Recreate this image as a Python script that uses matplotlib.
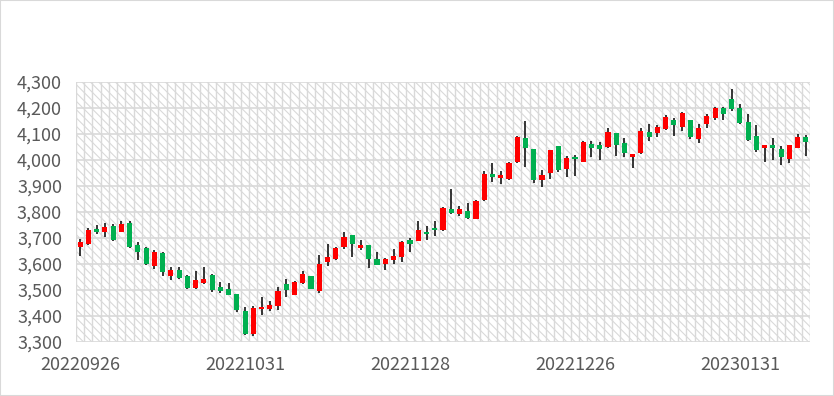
import numpy as np
import matplotlib.pyplot as plt
from matplotlib.patches import Rectangle

plt.rcParams['font.family'] = ['Noto Sans CJK JP', 'DejaVu Sans']

dates = ["20220926", "20220927", "20220928", "20220929", "20220930",
         "20221010", "20221011", "20221012", "20221013", "20221014",
         "20221017", "20221018", "20221019", "20221020", "20221021",
         "20221024", "20221025", "20221026", "20221027", "20221028",
         "20221031", "20221101", "20221102", "20221103", "20221104",
         "20221107", "20221108", "20221109", "20221110", "20221111",
         "20221114", "20221115", "20221116", "20221117", "20221118",
         "20221121", "20221122", "20221123", "20221124", "20221125",
         "20221128", "20221129", "20221130", "20221201", "20221202",
         "20221205", "20221206", "20221207", "20221208", "20221209",
         "20221212", "20221213", "20221214", "20221215", "20221216",
         "20221219", "20221220", "20221221", "20221222", "20221223",
         "20221226", "20221227", "20221228", "20221229", "20221230",
         "20230103", "20230104", "20230105", "20230106",
         "20230109", "20230110", "20230111", "20230112", "20230113",
         "20230116", "20230117", "20230118", "20230119", "20230120",
         "20230130", "20230131", "20230201", "20230202", "20230203",
         "20230206", "20230207", "20230208", "20230209", "20230210"]

open_ = [3665, 3677, 3734, 3722, 3747, 3725, 3758, 3673, 3661, 3594,
         3642, 3555, 3578, 3555, 3507, 3526, 3559, 3512, 3502, 3483,
         3421, 3329, 3428, 3427, 3440, 3525, 3482, 3528, 3553, 3495,
         3606, 3621, 3665, 3711, 3661, 3672, 3619, 3599, 3614, 3627,
         3693, 3690, 3725, 3740, 3732, 3811, 3793, 3805, 3773, 3847,
         3947, 3931, 3928, 3992, 4084, 4043, 3924, 3950, 4052, 3965,
         4012, 3994, 4062, 4057, 4049, 4104, 4067, 4011, 4026, 4107,
         4103, 4120, 4154, 4128, 4154, 4081, 4138, 4163, 4201, 4235,
         4201, 4148, 4093, 4048, 4057, 4043, 4004, 4048, 4088]
high = [3695, 3740, 3750, 3758, 3755, 3766, 3766, 3683, 3665, 3655,
        3647, 3590, 3587, 3557, 3572, 3587, 3560, 3531, 3527, 3486,
        3434, 3440, 3472, 3459, 3510, 3543, 3533, 3572, 3555, 3636,
        3677, 3666, 3722, 3712, 3691, 3673, 3645, 3622, 3658, 3687,
        3700, 3764, 3747, 3764, 3818, 3889, 3824, 3834, 3847, 3958,
        3990, 3958, 3991, 4092, 4150, 4044, 3962, 4040, 4053, 4016,
        4020, 4072, 4075, 4071, 4122, 4105, 4086, 4025, 4122, 4139,
        4135, 4173, 4161, 4186, 4155, 4139, 4178, 4202, 4202, 4273,
        4216, 4177, 4135, 4059, 4086, 4054, 4059, 4100, 4097]
low = [3629, 3675, 3717, 3705, 3690, 3724, 3661, 3614, 3598, 3580,
       3553, 3537, 3543, 3505, 3505, 3522, 3493, 3487, 3479, 3416,
       3328, 3322, 3405, 3418, 3423, 3472, 3480, 3525, 3502, 3489,
       3594, 3617, 3659, 3626, 3652, 3583, 3595, 3578, 3601, 3606,
       3645, 3687, 3693, 3706, 3727, 3792, 3783, 3775, 3772, 3844,
       3917, 3907, 3924, 3990, 3973, 3913, 3898, 3928, 3952, 3933,
       3939, 3992, 4013, 4000, 4047, 4016, 4011, 3971, 4024, 4075,
       4090, 4116, 4094, 4113, 4081, 4067, 4125, 4154, 4154, 4190,
       4137, 4075, 4029, 3994, 4001, 3979, 3988, 4046, 4016]
close = [3683, 3732, 3722, 3743, 3692, 3755, 3664, 3645, 3600, 3645,
         3568, 3578, 3546, 3507, 3537, 3544, 3499, 3495, 3480, 3425,
         3329, 3431, 3436, 3444, 3498, 3499, 3531, 3563, 3505, 3601,
         3627, 3662, 3705, 3677, 3673, 3619, 3596, 3621, 3632, 3685,
         3677, 3732, 3715, 3729, 3815, 3798, 3811, 3777, 3843, 3946,
         3934, 3942, 3990, 4090, 4048, 3924, 3942, 4039, 3962, 4009,
         4002, 4071, 4048, 4044, 4108, 4058, 4026, 4024, 4112, 4090,
         4126, 4165, 4135, 4180, 4090, 4125, 4169, 4201, 4177, 4196,
         4141, 4077, 4039, 4058, 4048, 4013, 4058, 4090, 4071]

yticks = [3300, 3400, 3500, 3600, 3700, 3800, 3900, 4000, 4100, 4200, 4300]

grid_c = '#d9d9d9'
text_c = '#595959'
up_c = '#ff0000'
down_c = '#00b050'

plt.rcParams['hatch.color'] = grid_c
plt.rcParams['hatch.linewidth'] = 0.8

fig = plt.figure(figsize=(8.34, 3.96), dpi=100)
ax = fig.add_axes([76 / 834, 54 / 396, 734 / 834, 260 / 396])

n = len(dates)
x = np.arange(n)

# hatched plot background
bg = Rectangle((-0.5, 3300), n, 1000, facecolor='white', edgecolor=grid_c,
               hatch='\\\\\\\\', linewidth=0, zorder=0)
ax.add_patch(bg)

for v in yticks:
    ax.axhline(v, color=grid_c, lw=1.2, zorder=1)
for i in range(n + 1):
    ax.axvline(i - 0.5, color=grid_c, lw=1.0, zorder=1)

body_w = 0.62
for i in range(n):
    o, h, l, c = open_[i], high[i], low[i], close[i]
    col = up_c if c >= o else down_c
    ax.vlines(x[i], l, h, color='black', lw=1.1, zorder=2)
    ax.bar(x[i], abs(c - o), width=body_w, bottom=min(o, c), color=col, zorder=3)

ax.set_xlim(-0.5, n - 0.5)
ax.set_ylim(3300, 4300)
ax.set_yticks(yticks)
ax.set_yticklabels([f"{v:,}" for v in yticks])
ax.set_xticks(x[::20])
ax.set_xticklabels(dates[::20])
ax.tick_params(length=0, colors=text_c, labelsize=13)
ax.tick_params(axis='y', pad=10)
ax.tick_params(axis='x', pad=10)
for s in ax.spines.values():
    s.set_visible(False)

fig.patches.append(Rectangle((0, 0), 1, 1, transform=fig.transFigure, fill=False,
                             edgecolor=grid_c, lw=1.5))

plt.savefig("out.png", dpi=100)
